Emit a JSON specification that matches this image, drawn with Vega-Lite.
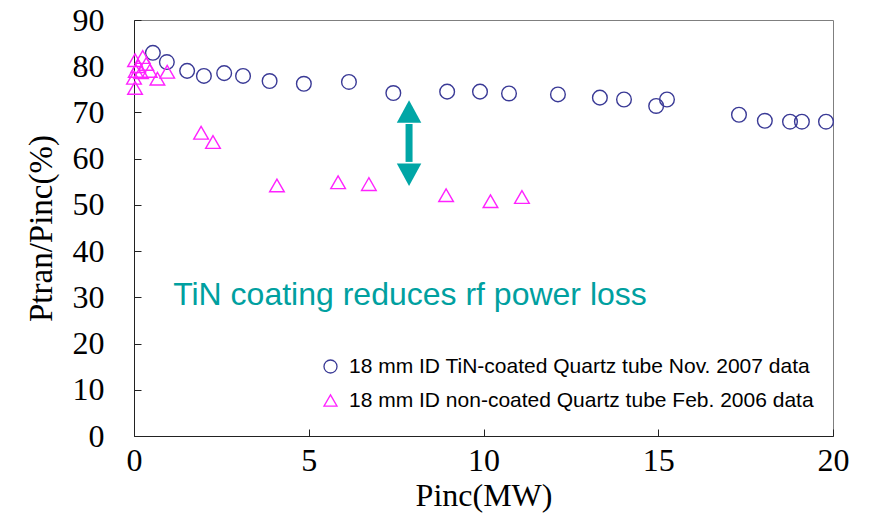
{
  "$schema": "https://vega.github.io/schema/vega-lite/v6.json",
  "width": 699,
  "height": 416,
  "autosize": {"type": "none"},
  "padding": {"left": 134, "top": 20, "right": 37, "bottom": 86},
  "background": "white",
  "config": {
    "view": {"stroke": "#7f7f7f", "strokeWidth": 1},
    "axis": {
      "grid": false,
      "domainColor": "#222",
      "tickColor": "#222",
      "labelFont": "Liberation Serif",
      "titleFont": "Liberation Serif",
      "labelColor": "black",
      "titleColor": "black",
      "titleFontWeight": "normal"
    },
    "legend": {
      "title": null, "orient": "none", "legendX": 186, "legendY": 336,
      "labelFont": "Liberation Sans", "labelFontSize": 21, "labelColor": "black",
      "symbolSize": 170, "symbolStrokeWidth": 1.3, "rowPadding": 12, "labelOffset": 8,
      "labelLimit": 700
    }
  },
  "datasets": {
    "pts": [
      {"series": "18 mm ID TiN-coated Quartz tube Nov. 2007 data", "pinc": 0.54, "ratio": 82.9},
      {"series": "18 mm ID TiN-coated Quartz tube Nov. 2007 data", "pinc": 0.94, "ratio": 80.9},
      {"series": "18 mm ID TiN-coated Quartz tube Nov. 2007 data", "pinc": 1.52, "ratio": 79.0},
      {"series": "18 mm ID TiN-coated Quartz tube Nov. 2007 data", "pinc": 2.0, "ratio": 77.9},
      {"series": "18 mm ID TiN-coated Quartz tube Nov. 2007 data", "pinc": 2.58, "ratio": 78.5},
      {"series": "18 mm ID TiN-coated Quartz tube Nov. 2007 data", "pinc": 3.12, "ratio": 77.9},
      {"series": "18 mm ID TiN-coated Quartz tube Nov. 2007 data", "pinc": 3.88, "ratio": 76.8},
      {"series": "18 mm ID TiN-coated Quartz tube Nov. 2007 data", "pinc": 4.86, "ratio": 76.2},
      {"series": "18 mm ID TiN-coated Quartz tube Nov. 2007 data", "pinc": 6.15, "ratio": 76.6},
      {"series": "18 mm ID TiN-coated Quartz tube Nov. 2007 data", "pinc": 7.42, "ratio": 74.2},
      {"series": "18 mm ID TiN-coated Quartz tube Nov. 2007 data", "pinc": 8.96, "ratio": 74.5},
      {"series": "18 mm ID TiN-coated Quartz tube Nov. 2007 data", "pinc": 9.9, "ratio": 74.5},
      {"series": "18 mm ID TiN-coated Quartz tube Nov. 2007 data", "pinc": 10.73, "ratio": 74.1},
      {"series": "18 mm ID TiN-coated Quartz tube Nov. 2007 data", "pinc": 12.13, "ratio": 73.9},
      {"series": "18 mm ID TiN-coated Quartz tube Nov. 2007 data", "pinc": 13.33, "ratio": 73.2},
      {"series": "18 mm ID TiN-coated Quartz tube Nov. 2007 data", "pinc": 14.02, "ratio": 72.8},
      {"series": "18 mm ID TiN-coated Quartz tube Nov. 2007 data", "pinc": 14.94, "ratio": 71.4},
      {"series": "18 mm ID TiN-coated Quartz tube Nov. 2007 data", "pinc": 15.25, "ratio": 72.8},
      {"series": "18 mm ID TiN-coated Quartz tube Nov. 2007 data", "pinc": 17.31, "ratio": 69.5},
      {"series": "18 mm ID TiN-coated Quartz tube Nov. 2007 data", "pinc": 18.05, "ratio": 68.2},
      {"series": "18 mm ID TiN-coated Quartz tube Nov. 2007 data", "pinc": 18.77, "ratio": 68.0},
      {"series": "18 mm ID TiN-coated Quartz tube Nov. 2007 data", "pinc": 19.11, "ratio": 68.0},
      {"series": "18 mm ID TiN-coated Quartz tube Nov. 2007 data", "pinc": 19.8, "ratio": 68.0},
      {"series": "18 mm ID non-coated Quartz tube Feb. 2006 data", "pinc": 0.03, "ratio": 75.3},
      {"series": "18 mm ID non-coated Quartz tube Feb. 2006 data", "pinc": 0.0, "ratio": 77.5},
      {"series": "18 mm ID non-coated Quartz tube Feb. 2006 data", "pinc": 0.05, "ratio": 79.0},
      {"series": "18 mm ID non-coated Quartz tube Feb. 2006 data", "pinc": 0.03, "ratio": 81.3},
      {"series": "18 mm ID non-coated Quartz tube Feb. 2006 data", "pinc": 0.12, "ratio": 80.0},
      {"series": "18 mm ID non-coated Quartz tube Feb. 2006 data", "pinc": 0.25, "ratio": 82.0},
      {"series": "18 mm ID non-coated Quartz tube Feb. 2006 data", "pinc": 0.2, "ratio": 78.7},
      {"series": "18 mm ID non-coated Quartz tube Feb. 2006 data", "pinc": 0.35, "ratio": 80.5},
      {"series": "18 mm ID non-coated Quartz tube Feb. 2006 data", "pinc": 0.45, "ratio": 79.0},
      {"series": "18 mm ID non-coated Quartz tube Feb. 2006 data", "pinc": 0.67, "ratio": 77.3},
      {"series": "18 mm ID non-coated Quartz tube Feb. 2006 data", "pinc": 0.95, "ratio": 78.8},
      {"series": "18 mm ID non-coated Quartz tube Feb. 2006 data", "pinc": 1.92, "ratio": 65.6},
      {"series": "18 mm ID non-coated Quartz tube Feb. 2006 data", "pinc": 2.26, "ratio": 63.6},
      {"series": "18 mm ID non-coated Quartz tube Feb. 2006 data", "pinc": 4.09, "ratio": 54.2},
      {"series": "18 mm ID non-coated Quartz tube Feb. 2006 data", "pinc": 5.84, "ratio": 54.9},
      {"series": "18 mm ID non-coated Quartz tube Feb. 2006 data", "pinc": 6.72, "ratio": 54.5},
      {"series": "18 mm ID non-coated Quartz tube Feb. 2006 data", "pinc": 8.93, "ratio": 52.1},
      {"series": "18 mm ID non-coated Quartz tube Feb. 2006 data", "pinc": 10.2, "ratio": 50.8},
      {"series": "18 mm ID non-coated Quartz tube Feb. 2006 data", "pinc": 11.1, "ratio": 51.7}
    ],
    "arrowShaft": [{"pinc": 7.87, "y1": 67.5, "y2": 59.3}],
    "arrowUp": [{"pinc": 7.87, "ratio": 70.2}],
    "arrowDown": [{"pinc": 7.87, "ratio": 56.5}],
    "note": [{"pinc": 1.12, "ratio": 30.4, "label": "TiN coating reduces rf power loss"}]
  },
  "layer": [
    {
      "data": {"name": "pts"},
      "mark": {"type": "point", "filled": false, "strokeWidth": 1.4, "size": 215, "opacity": 1},
      "encoding": {
        "x": {
          "field": "pinc", "type": "quantitative",
          "scale": {"domain": [0, 20], "nice": false, "zero": false},
          "axis": {"values": [0, 5, 10, 15, 20], "title": "Pinc(MW)", "tickSize": -7,
                   "labelFontSize": 32, "titleFontSize": 32, "labelPadding": 16, "titlePadding": 4,
                   "labelFlush": false}
        },
        "y": {
          "field": "ratio", "type": "quantitative",
          "scale": {"domain": [0, 90], "nice": false, "zero": false},
          "axis": {"values": [0, 10, 20, 30, 40, 50, 60, 70, 80, 90], "title": "Ptran/Pinc(%)", "tickSize": -7,
                   "labelFontSize": 32, "titleFontSize": 33, "labelPadding": 37, "titlePadding": 14,
                   "labelFlush": false}
        },
        "shape": {
          "field": "series", "type": "nominal",
          "scale": {"domain": ["18 mm ID TiN-coated Quartz tube Nov. 2007 data", "18 mm ID non-coated Quartz tube Feb. 2006 data"], "range": ["circle", "triangle-up"]}
        },
        "stroke": {
          "field": "series", "type": "nominal",
          "scale": {"domain": ["18 mm ID TiN-coated Quartz tube Nov. 2007 data", "18 mm ID non-coated Quartz tube Feb. 2006 data"], "range": ["#3a3a96", "#ff22ff"]}
        }
      }
    },
    {
      "data": {"name": "arrowShaft"},
      "mark": {"type": "rule", "color": "#00a6a6", "strokeWidth": 7},
      "encoding": {
        "x": {"field": "pinc", "type": "quantitative"},
        "y": {"field": "y1", "type": "quantitative"},
        "y2": {"field": "y2"}
      }
    },
    {
      "data": {"name": "arrowUp"},
      "mark": {"type": "point", "filled": true, "color": "#00a6a6", "opacity": 1, "size": 600, "shape": "M-1,0.92L1,0.92L0,-0.92Z"},
      "encoding": {
        "x": {"field": "pinc", "type": "quantitative"},
        "y": {"field": "ratio", "type": "quantitative"}
      }
    },
    {
      "data": {"name": "arrowDown"},
      "mark": {"type": "point", "filled": true, "color": "#00a6a6", "opacity": 1, "size": 600, "shape": "M-1,-0.92L1,-0.92L0,0.92Z"},
      "encoding": {
        "x": {"field": "pinc", "type": "quantitative"},
        "y": {"field": "ratio", "type": "quantitative"}
      }
    },
    {
      "data": {"name": "note"},
      "mark": {"type": "text", "align": "left", "baseline": "middle", "font": "Liberation Sans", "fontSize": 32, "color": "#00a0a0"},
      "encoding": {
        "x": {"field": "pinc", "type": "quantitative"},
        "y": {"field": "ratio", "type": "quantitative"},
        "text": {"field": "label"}
      }
    }
  ]
}
